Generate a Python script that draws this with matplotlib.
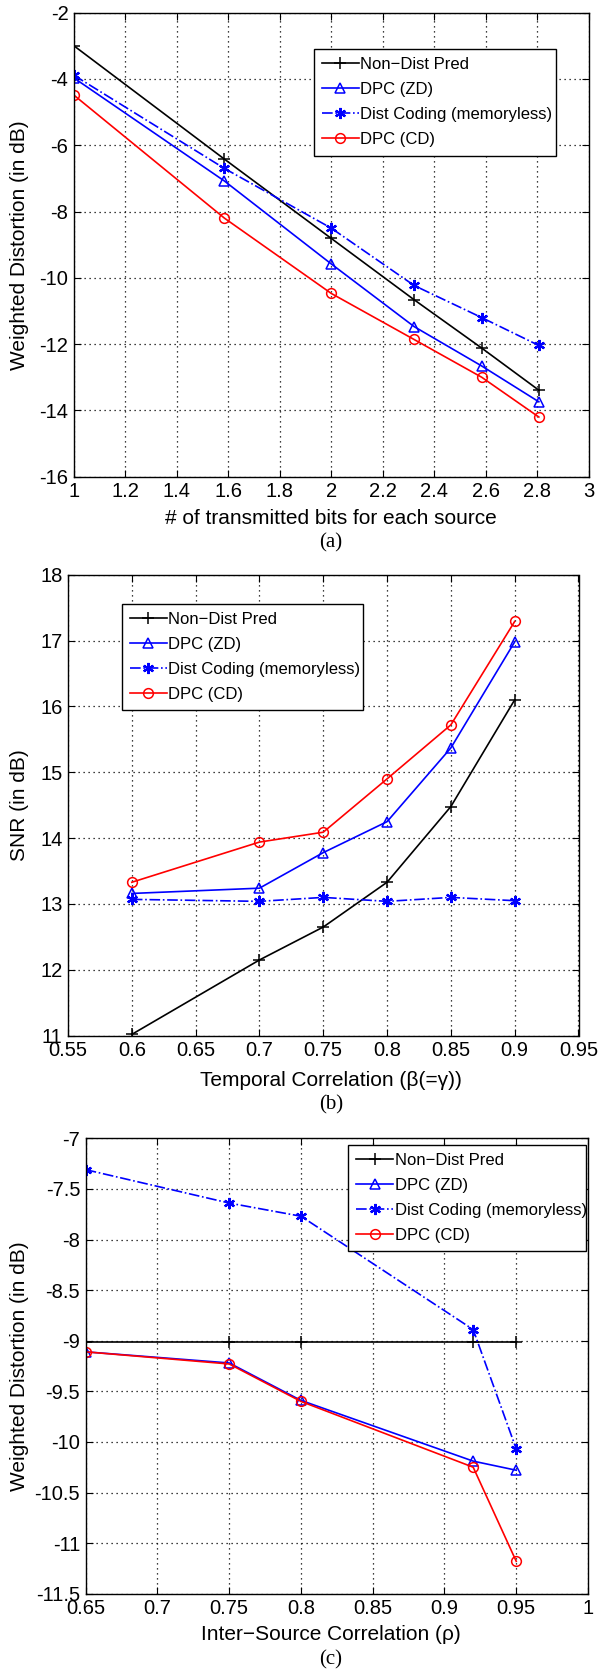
import matplotlib
matplotlib.use("Agg")
import matplotlib.pyplot as plt
from matplotlib.ticker import FuncFormatter
import numpy as np

plt.rcParams['font.family'] = ['Liberation Sans', 'DejaVu Sans']

# panel (a)
bits = [1, 1.585, 2, 2.322, 2.585, 2.807]
a_nondist = [-3.0, -6.42, -8.81, -10.66, -12.12, -13.39]
a_dpc_zd = [-3.97, -7.08, -9.58, -11.47, -12.66, -13.74]
a_dist = [-3.89, -6.70, -8.50, -10.23, -11.20, -12.04]
a_dpc_cd = [-4.49, -8.20, -10.47, -11.86, -13.00, -14.20]

# panel (b)
beta = [0.6, 0.7, 0.75, 0.8, 0.85, 0.9]
b_nondist = [11.02, 12.15, 12.65, 13.33, 14.48, 16.10]
b_dpc_zd = [13.16, 13.24, 13.78, 14.25, 15.37, 16.98]
b_dist = [13.07, 13.04, 13.10, 13.04, 13.10, 13.05]
b_dpc_cd = [13.33, 13.94, 14.09, 14.90, 15.72, 17.29]

# panel (c)
rho = [0.65, 0.75, 0.8, 0.92, 0.95]
c_nondist = [-9.01, -9.01, -9.01, -9.01, -9.01]
c_dpc_zd = [-9.11, -9.22, -9.59, -10.19, -10.28]
c_dist = [-7.31, -7.64, -7.77, -8.89, -10.07]
c_dpc_cd = [-9.11, -9.23, -9.60, -10.25, -11.18]

names = ['Non\u2212Dist Pred', 'DPC (ZD)', 'Dist Coding (memoryless)', 'DPC (CD)']

fig = plt.figure(figsize=(6, 16.7), dpi=100)
H = 1670.0
W = 600.0


def make_ax(l, t, r, b):
    return fig.add_axes([l / W, 1 - b / H, (r - l) / W, (b - t) / H])


def style(ax, xt, yt):
    ax.set_xticks(xt)
    ax.set_yticks(yt)
    ax.xaxis.set_major_formatter(FuncFormatter(lambda v, p: '%g' % round(v, 3)))
    ax.yaxis.set_major_formatter(FuncFormatter(lambda v, p: '%g' % round(v, 3)))
    ax.set_xlim(xt[0], xt[-1])
    ax.set_ylim(yt[0], yt[-1])
    ax.grid(True, color='k', linestyle=(0, (1, 3)), linewidth=0.9)
    ax.tick_params(direction='in', top=True, right=True, length=5, width=0.8,
                   labelsize=14.5, pad=4)
    for s in ax.spines.values():
        s.set_linewidth(1.0)


def draw(ax, x, s1, s2, s3, s4):
    ax.plot(x, s1, color='k', marker='+', ms=9, mew=1.1, lw=1.2, label=names[0])
    ax.plot(x, s2, color='#0000ff', marker='^', ms=7, mfc='none', mew=1.1,
            lw=1.2, label=names[1])
    ax.plot(x, s3, color='#0000ff', marker=(6, 2, 0), ms=8, mew=1.6, lw=1.2,
            ls='-.', label=names[2])
    ax.plot(x, s4, color='#ff0000', marker='o', ms=7, mfc='none', mew=1.1,
            lw=1.2, label=names[3])


def legend(ax, x0, y0, w, h):
    leg = ax.legend(loc='upper left', bbox_to_anchor=(x0, y0, w, h), mode='expand',
                    fontsize=12, handlelength=2.2, handletextpad=0.1,
                    borderpad=0.5, labelspacing=0.6, fancybox=False,
                    framealpha=1, edgecolor='k', borderaxespad=0)
    leg.get_frame().set_linewidth(1.0)


# (a)
ax1 = make_ax(74, 12.7, 588.5, 476.7)
draw(ax1, bits, a_nondist, a_dpc_zd, a_dist, a_dpc_cd)
style(ax1, np.arange(1, 3.01, 0.2), np.arange(-16, -1.99, 2))
ax1.set_ylabel('Weighted Distortion (in dB)', fontsize=15)
ax1.yaxis.set_label_coords(-0.0875, 0.5)
legend(ax1, 0.466, 0.714, 0.471, 0.208)
fig.text(331 / W, 1 - 519 / H, '# of transmitted bits for each source',
         ha='center', va='center', fontsize=15)
fig.text(331 / W, 1 - 543 / H, '(a)', ha='center', va='center', fontsize=15,
         family='Liberation Serif')

# (b)
ax2 = make_ax(68, 574.7, 578.5, 1035.7)
draw(ax2, beta, b_nondist, b_dpc_zd, b_dist, b_dpc_cd)
style(ax2, np.arange(0.55, 0.951, 0.05), np.arange(11, 18.01, 1))
ax2.set_ylabel('SNR (in dB)', fontsize=15)
ax2.yaxis.set_label_coords(-0.076, 0.5)
legend(ax2, 0.105, 0.730, 0.472, 0.207)
fig.text(331 / W, 1 - 1080 / H, 'Temporal Correlation (\u03b2(=\u03b3))',
         ha='center', va='center', fontsize=15)
fig.text(331 / W, 1 - 1105 / H, '(b)', ha='center', va='center', fontsize=15,
         family='Liberation Serif')

# (c)
ax3 = make_ax(85.7, 1138.3, 588, 1593.7)
draw(ax3, rho, c_nondist, c_dpc_zd, c_dist, c_dpc_cd)
style(ax3, np.arange(0.65, 1.001, 0.05), np.arange(-11.5, -6.99, 0.5))
ax3.set_ylabel('Weighted Distortion (in dB)', fontsize=15)
ax3.yaxis.set_label_coords(-0.113, 0.5)
legend(ax3, 0.522, 0.779, 0.474, 0.207)
fig.text(331 / W, 1 - 1635 / H, 'Inter\u2212Source Correlation (\u03c1)',
         ha='center', va='center', fontsize=15)
fig.text(331 / W, 1 - 1660 / H, '(c)', ha='center', va='center', fontsize=15,
         family='Liberation Serif')

fig.savefig('out.png', dpi=100)
